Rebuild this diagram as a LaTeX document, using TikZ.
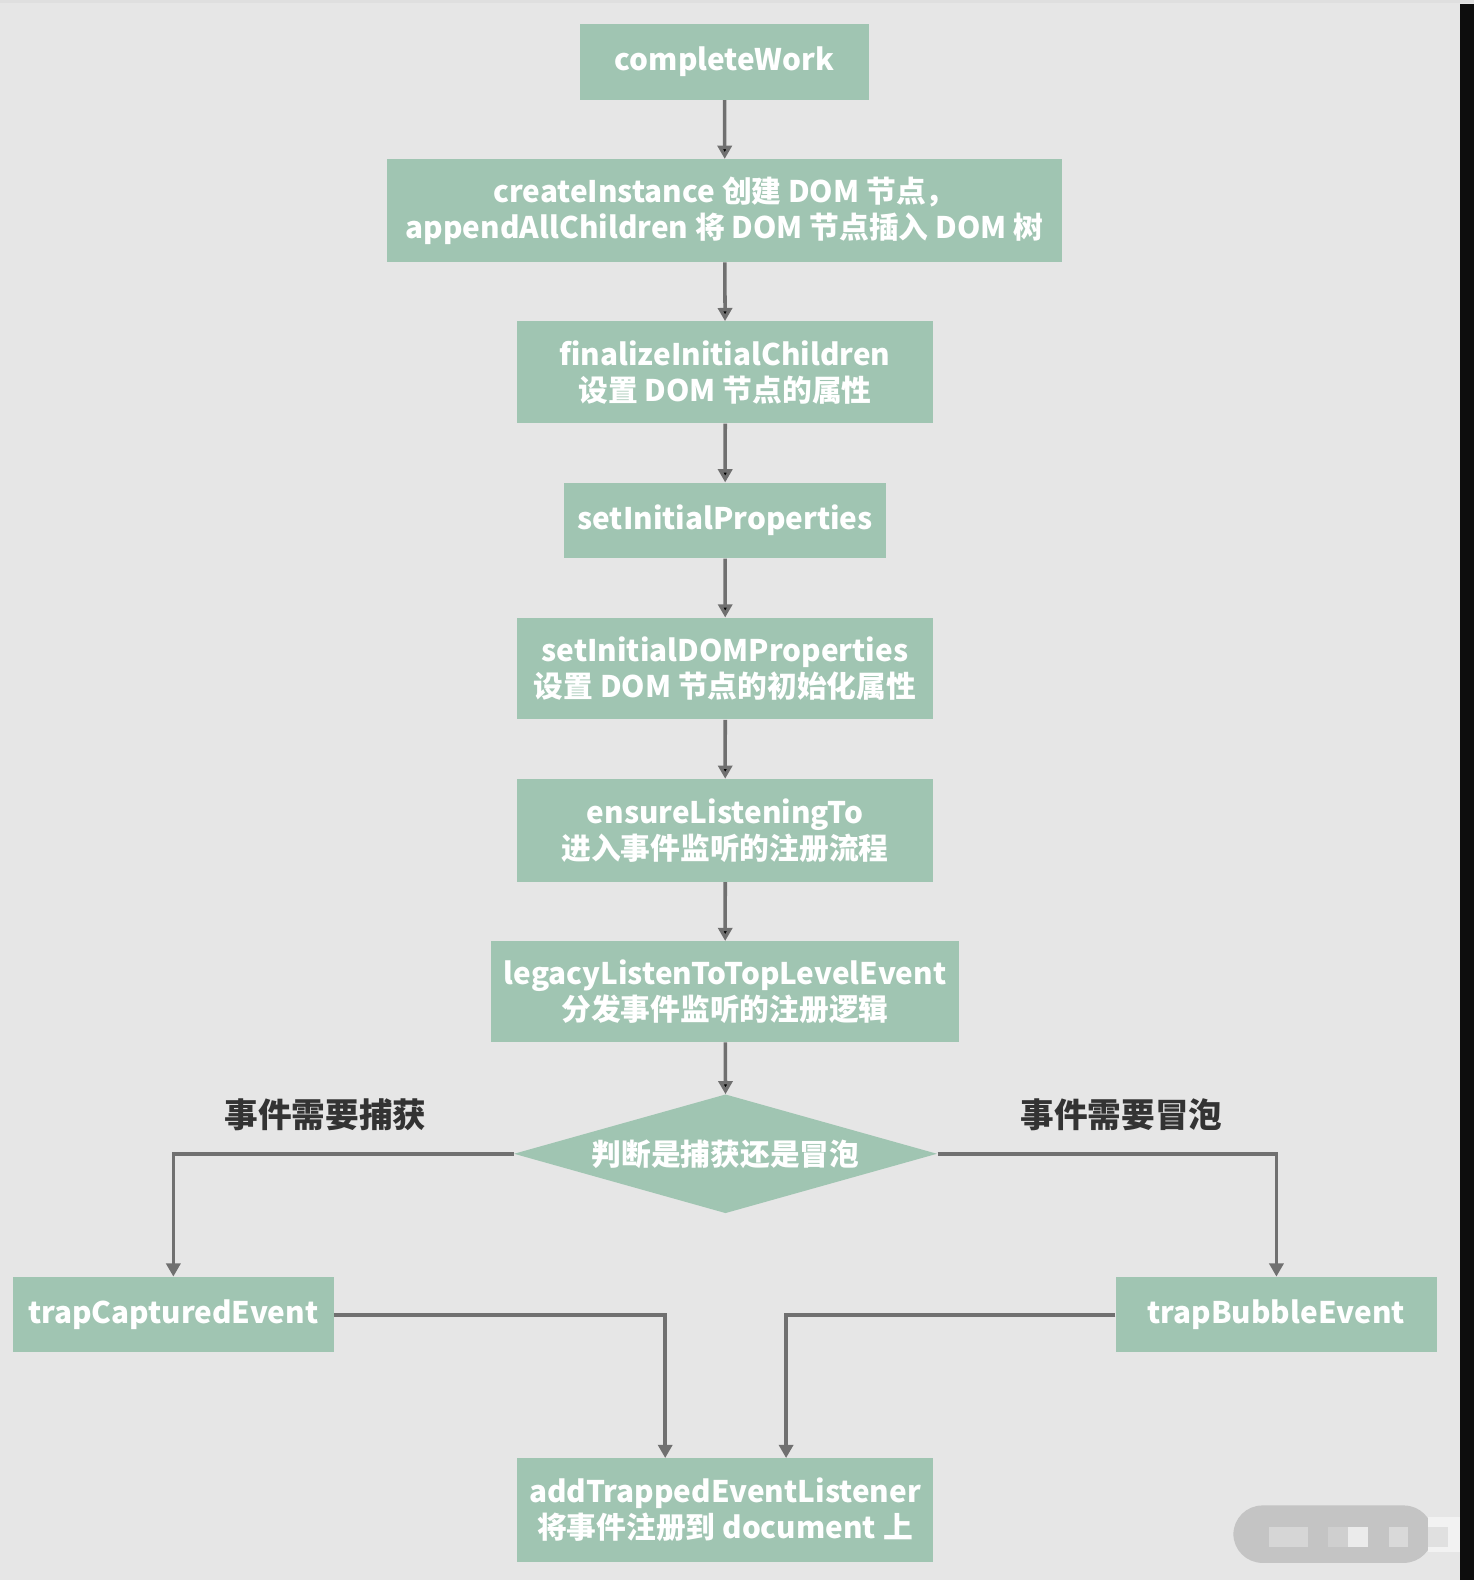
\documentclass[tikz,border=0pt]{standalone}
\usepackage{fontspec}
\setmainfont{Noto Sans CJK SC}
\usetikzlibrary{shapes.geometric,arrows.meta}
\definecolor{boxgreen}{HTML}{A0C5B2}
\definecolor{bggray}{HTML}{E6E6E6}
\definecolor{linegray}{HTML}{707070}
\definecolor{labelgray}{HTML}{333333}
\begin{document}
\begin{tikzpicture}[x=0.02cm,y=-0.02cm,scale=1.0075,transform shape,
                    main node/.style={rectangle,fill=boxgreen,text=white,inner sep=0pt,align=center,
                      font=\bfseries\fontsize{16.8}{20.4}\selectfont},
                    cond node/.style={main node,diamond,aspect=3.5,minimum width=8.4cm,minimum height=2.36cm},
                    side label/.style={text=labelgray,font=\bfseries\fontsize{19}{22}\selectfont},
                    link/.style={draw=linegray,line width=2pt,-{Triangle[length=7.5pt,width=8pt]}}
                   ]
  \useasboundingbox (0,0) rectangle (1463,1568);
  % background
  \fill[bggray] (0,0) rectangle (1463,1568);
  \fill[gray!25] (0,0) rectangle (1463,3);
  \fill[black!95] (1449,4) rectangle (1463,1568);
  \fill[black!23,rounded corners=0.58cm] (1224,1494) rectangle (1422,1551);
  \fill[black!16] (1259,1515) rectangle (1298,1535);
  \fill[black!19] (1318,1515) rectangle (1338,1535);
  \fill[black!8] (1338,1515) rectangle (1358,1535);
  \fill[black!15] (1378,1515) rectangle (1397,1535);
  \fill[black!5] (1417,1505) rectangle (1449,1540);
  \fill[black!12] (1417,1515) rectangle (1437,1535);

  \node[main node,minimum width=5.72cm,minimum height=1.5cm] (1) at (719,61.5) {completeWork};
  \node[main node,minimum width=13.4cm,minimum height=2.04cm] (2) at (719,209) {createInstance 创建 DOM 节点，\\appendAllChildren 将 DOM 节点插入 DOM 树};
  \node[main node,minimum width=8.26cm,minimum height=2.02cm] (3) at (719.5,369.5) {finalizeInitialChildren\\设置 DOM 节点的属性};
  \node[main node,minimum width=6.38cm,minimum height=1.5cm] (4) at (719.5,516.5) {setInitialProperties};
  \node[main node,minimum width=8.26cm,minimum height=2.02cm] (5) at (719.5,663.5) {setInitialDOMProperties\\设置 DOM 节点的初始化属性};
  \node[main node,minimum width=8.26cm,minimum height=2.04cm] (6) at (719.5,824) {ensureListeningTo\\进入事件监听的注册流程};
  \node[main node,minimum width=9.3cm,minimum height=2.0cm] (7) at (719.5,984) {legacyListenToTopLevelEvent\\分发事件监听的注册逻辑};
  \node[cond node] (8) at (720,1145) {判断是捕获还是冒泡};
  \node[main node,minimum width=6.36cm,minimum height=1.5cm] (9) at (172,1304.5) {trapCapturedEvent};
  \node[main node,minimum width=6.38cm,minimum height=1.5cm] (10) at (1266.5,1304.5) {trapBubbleEvent};
  \node[main node,minimum width=8.26cm,minimum height=2.06cm] (11) at (719.5,1498.5) {addTrappedEventListener\\将事件注册到 document 上};

  \node[side label] (capture) at (323,1106) {事件需要捕获};
  \node[side label] (bubble) at (1113,1106) {事件需要冒泡};

  \path[link]
   (1) edge (2)
   (2) edge (3)
   (3) edge (4)
   (4) edge (5)
   (5) edge (6)
   (6) edge (7)
   (7) edge (8);
  \draw[link] (8.west) -| (9.north);
  \draw[link] (8.east) -| (10.north);
  \draw[link] (9.east) -| ([xshift=-1.19cm]11.north);
  \draw[link] (10.west) -| ([xshift=1.21cm]11.north);
\end{tikzpicture}
\end{document}
